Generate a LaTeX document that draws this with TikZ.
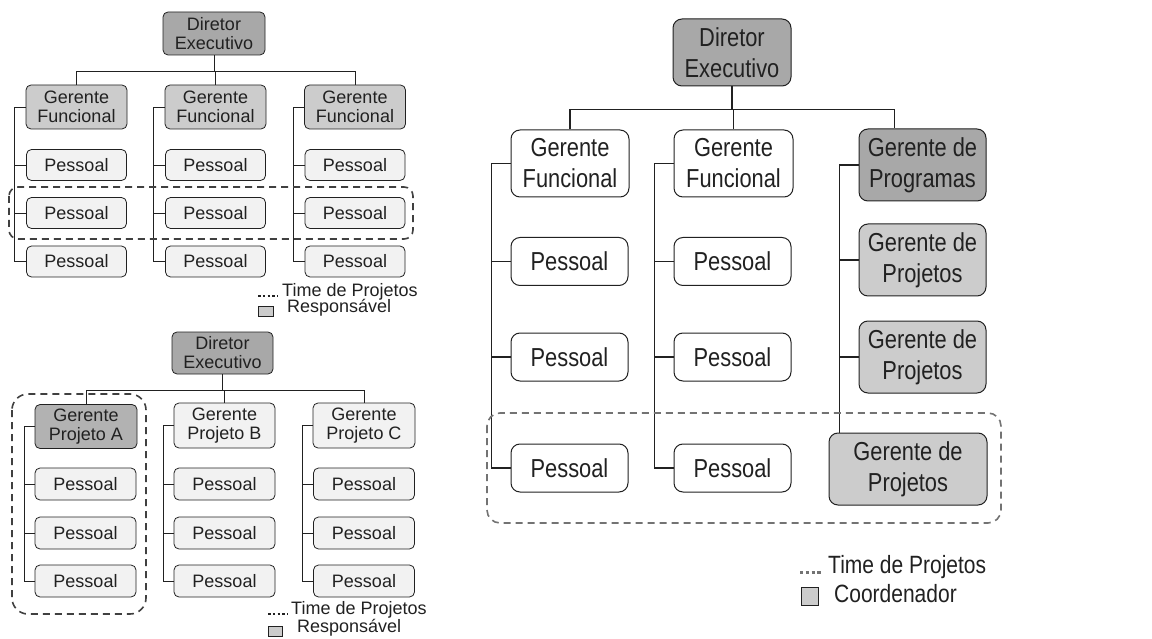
\documentclass[tikz,border=0pt]{standalone}
\usepackage{fontspec}
\setmainfont{Liberation Sans}
\newfontfamily\narrowsans[FakeStretch=0.84]{Liberation Sans}
\definecolor{inkgray}{gray}{0.13}
\definecolor{dirgray}{gray}{0.66}
\definecolor{respgray}{gray}{0.80}
\definecolor{darkresp}{gray}{0.70}
\definecolor{palegray}{gray}{0.95}
\definecolor{teamgray}{gray}{0.45}
\begin{document}
\begin{tikzpicture}[x=1pt,y=-1pt,
  link/.style={draw=inkgray, line width=0.8pt},
  biglink/.style={draw=inkgray, line width=1.2pt},
  small/.style={draw=inkgray, line width=0.8pt, rounded corners=5pt, inner sep=0pt,
    align=center, text=inkgray, font=\fontsize{18}{19}\selectfont},
  big/.style={draw=inkgray, line width=1pt, rounded corners=9pt, inner sep=0pt,
    align=center, text=inkgray, font=\narrowsans\fontsize{26}{31}\selectfont},
  spes/.style={small, fill=palegray, minimum width=100pt, minimum height=31pt},
  bpes/.style={big, fill=white, minimum width=117pt, minimum height=48pt},
  team/.style={draw=#1, line width=1.6pt, dash pattern=on 7pt off 5pt},
  legtxt/.style={anchor=west, inner sep=0pt, text=inkgray, font=\fontsize{18}{19}\selectfont},
  biglegtxt/.style={anchor=west, inner sep=0pt, text=inkgray, font=\narrowsans\fontsize{25}{30}\selectfont},
  legbox/.style={draw=inkgray, line width=0.6pt, fill=respgray}
]
\useasboundingbox (0,0) rectangle (1152,639);

% ---------- functional organisation (top left) ----------
\node[small, fill=dirgray, minimum width=102pt, minimum height=43pt] (d1) at (214,33.5) {Diretor\\Executivo};
\node[small, fill=respgray, minimum width=101pt, minimum height=44pt] (f11) at (76.5,107) {Gerente\\Funcional};
\node[small, fill=respgray, minimum width=101pt, minimum height=44pt] (f12) at (215.5,107) {Gerente\\Funcional};
\node[small, fill=respgray, minimum width=101pt, minimum height=44pt] (f13) at (355,107) {Gerente\\Funcional};
\foreach \c/\x in {1/76.5,2/215.5,3/355}{
  \node[spes] (p1\c a) at (\x,165) {Pessoal};
  \node[spes] (p1\c b) at (\x,213) {Pessoal};
  \node[spes] (p1\c c) at (\x,261.5) {Pessoal};
}
\draw[link] (d1.south) -- ++(0,16) coordinate (bus1);
\draw[link] (f11.north) |- (bus1) -| (f13.north);
\draw[link] (f12.north) -- (f12.north |- bus1);
\foreach \c in {1,2,3}{
  \draw[link] (f1\c.west) -- ++(-11,0) |- (p1\c c.west);
  \draw[link] (p1\c a.west) -- ++(-11,0);
  \draw[link] (p1\c b.west) -- ++(-11,0);
}
\draw[team=black!75, rounded corners=9pt] (9,187) rectangle (413,239);
\draw[inkgray, line width=2.4pt, dash pattern=on 2.6pt off 2.2pt] (258,296) -- (278,296);
\node[legtxt] (l1a) at (282,292) {Time de Projetos};
\draw[legbox] (258,306) rectangle (273,316);
\node[legtxt] (l1b) at (287,308) {Responsável};

% ---------- project organisation (bottom left) ----------
\node[small, fill=dirgray, minimum width=101pt, minimum height=42pt] (d2) at (222.5,353) {Diretor\\Executivo};
\node[small, fill=darkresp, minimum width=102pt, minimum height=44pt] (g21) at (86,426.5) {Gerente\\Projeto A};
\node[small, fill=palegray, minimum width=101pt, minimum height=45pt] (g22) at (224.5,425.5) {Gerente\\Projeto B};
\node[small, fill=palegray, minimum width=102pt, minimum height=45pt] (g23) at (364,425.5) {Gerente\\Projeto C};
\foreach \c/\x in {1/85.5,2/224.5,3/364}{
  \node[spes, minimum width=101pt, minimum height=32pt] (p2\c a) at (\x,484) {Pessoal};
  \node[spes, minimum width=101pt, minimum height=32pt] (p2\c b) at (\x,533) {Pessoal};
  \node[spes, minimum width=101pt, minimum height=32pt] (p2\c c) at (\x,581) {Pessoal};
}
\draw[link] (d2.south) -- ++(0,16) coordinate (bus2);
\draw[link] (g21.north) |- (bus2) -| (g23.north);
\draw[link] (g22.north) -- (g22.north |- bus2);
\foreach \c in {1,2,3}{
  \draw[link] (g2\c.west) -- ++(-10,0) |- (p2\c c.west);
  \draw[link] (p2\c a.west) -- ++(-10,0);
  \draw[link] (p2\c b.west) -- ++(-10,0);
}
\draw[team=black!75, rounded corners=16pt] (12,394) rectangle (146,614);
\draw[inkgray, line width=2.4pt, dash pattern=on 2.6pt off 2.2pt] (268,614) -- (288,614);
\node[legtxt] (l2a) at (291,610) {Time de Projetos};
\draw[legbox] (268,626) rectangle (282,636);
\node[legtxt] (l2b) at (297,628) {Responsável};

% ---------- matrix organisation (right) ----------
\node[big, fill=dirgray, minimum width=118pt, minimum height=67pt] (d3) at (732,52.5) {Diretor\\Executivo};
\node[big, fill=white, minimum width=118pt, minimum height=67pt] (f31) at (570,163.5) {Gerente\\Funcional};
\node[big, fill=white, minimum width=119pt, minimum height=67pt] (f32) at (733.5,163.5) {Gerente\\Funcional};
\node[big, fill=dirgray, minimum width=127pt, minimum height=72pt] (gp) at (922.5,165) {Gerente de\\Programas};
\node[big, fill=respgray, minimum width=127pt, minimum height=72pt] (gq1) at (922.5,260) {Gerente de\\Projetos};
\node[big, fill=respgray, minimum width=127pt, minimum height=72pt] (gq2) at (922.5,357) {Gerente de\\Projetos};
\node[big, fill=respgray, minimum width=158pt, minimum height=72pt] (gq3) at (908,469) {Gerente de\\Projetos};
\foreach \c/\x in {1/569.5,2/732.5}{
  \node[bpes] (p3\c a) at (\x,261.5) {Pessoal};
  \node[bpes] (p3\c b) at (\x,357) {Pessoal};
  \node[bpes] (p3\c c) at (\x,468) {Pessoal};
}
\draw[biglink] (d3.south) -- ++(0,23) coordinate (bus3);
\draw[biglink] (f31.north) |- (bus3) -| ([xshift=-28pt]gp.north);
\draw[biglink] (f32.north) -- (f32.north |- bus3);
\foreach \c in {1,2}{
  \draw[biglink] (f3\c.west) -- ++(-19,0) |- (p3\c c.west);
  \draw[biglink] (p3\c a.west) -- ++(-19,0);
  \draw[biglink] (p3\c b.west) -- ++(-19,0);
}
\draw[biglink] (gp.west) -- ++(-19,0) coordinate (c3) -- (c3 |- gq3.north);
\draw[biglink] (gq1.west) -- ++(-19,0);
\draw[biglink] (gq2.west) -- ++(-19,0);
\draw[team=teamgray, rounded corners=13pt] (487,413) rectangle (1001,523);
\draw[teamgray, line width=3pt, dash pattern=on 3.4pt off 2.4pt] (800,572) -- (823,572);
\node[biglegtxt] (l3a) at (828,567) {Time de Projetos};
\draw[legbox] (801,587) rectangle (818,605);
\node[biglegtxt] (l3b) at (834,594) {Coordenador};
\end{tikzpicture}
\end{document}
